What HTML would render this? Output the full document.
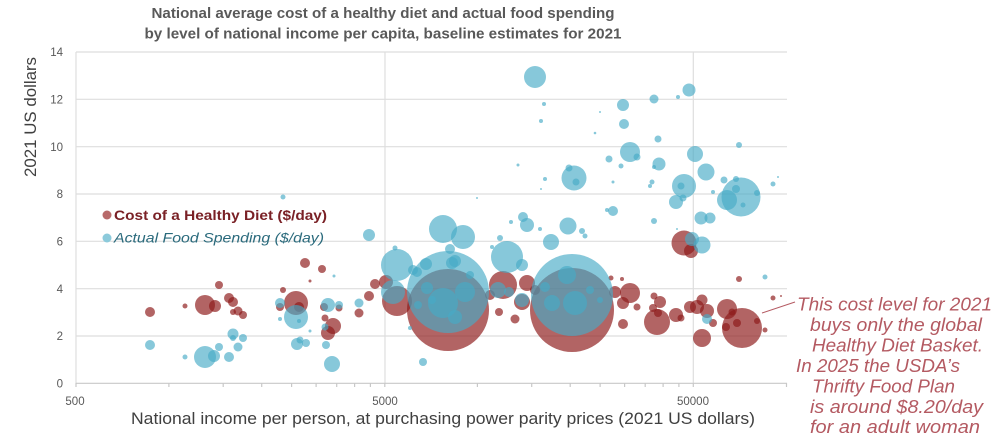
<!DOCTYPE html>
<html><head><meta charset="utf-8"><style>
html,body{margin:0;padding:0;background:#fff;}
svg{display:block;font-family:"Liberation Sans",sans-serif;}
</style></head><body>
<svg width="1000" height="435" viewBox="0 0 1000 435" xmlns="http://www.w3.org/2000/svg">
<rect width="1000" height="435" fill="#fff"/>
<!-- title -->
<text x="383" y="18" text-anchor="middle" font-size="14.5" font-weight="bold" fill="#595959" textLength="463" lengthAdjust="spacingAndGlyphs">National average cost of a healthy diet and actual food spending</text>
<text x="383" y="38.5" text-anchor="middle" font-size="14.5" font-weight="bold" fill="#595959" textLength="477" lengthAdjust="spacingAndGlyphs">by level of national income per capita, baseline estimates for 2021</text>
<!-- grid -->
<g stroke="#dedede" stroke-width="1.2">
<line x1="76" y1="52" x2="787" y2="52"/>
<line x1="76" y1="99.3" x2="787" y2="99.3"/>
<line x1="76" y1="146.7" x2="787" y2="146.7"/>
<line x1="76" y1="194" x2="787" y2="194"/>
<line x1="76" y1="241.3" x2="787" y2="241.3"/>
<line x1="76" y1="288.7" x2="787" y2="288.7"/>
<line x1="76" y1="336" x2="787" y2="336"/>
<line x1="385" y1="52" x2="385" y2="383"/>
<line x1="693.3" y1="52" x2="693.3" y2="383"/>
<line x1="76" y1="52" x2="76" y2="383"/>
</g>
<g stroke="#c8c8c8" stroke-width="1.2">
<line x1="76" y1="383.3" x2="787" y2="383.3"/>
<line x1="76" y1="383" x2="76" y2="387"/>
<line x1="168.9" y1="383" x2="168.9" y2="387"/>
<line x1="223.2" y1="383" x2="223.2" y2="387"/>
<line x1="261.7" y1="383" x2="261.7" y2="387"/>
<line x1="291.6" y1="383" x2="291.6" y2="387"/>
<line x1="316.1" y1="383" x2="316.1" y2="387"/>
<line x1="336.7" y1="383" x2="336.7" y2="387"/>
<line x1="354.6" y1="383" x2="354.6" y2="387"/>
<line x1="370.4" y1="383" x2="370.4" y2="387"/>
<line x1="384.8" y1="383" x2="384.8" y2="387"/>
<line x1="477.4" y1="383" x2="477.4" y2="387"/>
<line x1="531.7" y1="383" x2="531.7" y2="387"/>
<line x1="570.2" y1="383" x2="570.2" y2="387"/>
<line x1="600.1" y1="383" x2="600.1" y2="387"/>
<line x1="624.6" y1="383" x2="624.6" y2="387"/>
<line x1="645.2" y1="383" x2="645.2" y2="387"/>
<line x1="663.1" y1="383" x2="663.1" y2="387"/>
<line x1="678.9" y1="383" x2="678.9" y2="387"/>
<line x1="693.3" y1="383" x2="693.3" y2="387"/>
<line x1="786.5" y1="383" x2="786.5" y2="387"/>
</g>
<!-- y tick labels -->
<g font-size="11.5" fill="#595959" text-anchor="end">
<text x="63" y="56">14</text>
<text x="63" y="103.5">12</text>
<text x="63" y="151">10</text>
<text x="63" y="198">8</text>
<text x="63" y="245.5">6</text>
<text x="63" y="293">4</text>
<text x="63" y="340">2</text>
<text x="63" y="387.5">0</text>
</g>
<g font-size="11.5" fill="#595959" text-anchor="middle">
<text x="75" y="405">500</text>
<text x="385" y="405">5000</text>
<text x="693" y="405">50000</text>
</g>
<text transform="translate(36,117) rotate(-90)" text-anchor="middle" font-size="17" fill="#404040" textLength="120" lengthAdjust="spacingAndGlyphs">2021 US dollars</text>
<text x="131" y="424" font-size="17" fill="#404040" textLength="624" lengthAdjust="spacingAndGlyphs">National income per person, at purchasing power parity prices (2021 US dollars)</text>

<!-- red bubbles -->
<g fill="rgba(141,26,26,0.68)">
<circle cx="150" cy="312" r="5"/><circle cx="185" cy="306" r="2.5"/><circle cx="205" cy="305" r="10"/><circle cx="215" cy="306" r="6"/><circle cx="219" cy="285" r="4"/><circle cx="229" cy="298" r="5"/><circle cx="233" cy="302" r="5"/><circle cx="233" cy="312" r="3"/><circle cx="238" cy="311" r="4.5"/><circle cx="243" cy="315" r="4"/>
<circle cx="283" cy="290" r="3"/><circle cx="296" cy="303" r="12"/><circle cx="280" cy="307" r="4"/><circle cx="299" cy="307" r="5"/><circle cx="305" cy="263" r="5"/><circle cx="322" cy="269" r="4"/><circle cx="310" cy="281" r="1.5"/><circle cx="325" cy="318" r="3.5"/><circle cx="333" cy="326" r="8"/><circle cx="328" cy="333" r="7"/><circle cx="339" cy="308" r="3.5"/><circle cx="324" cy="307" r="4"/>
<circle cx="359" cy="313" r="4.5"/><circle cx="369" cy="296" r="5"/><circle cx="375" cy="284" r="5"/><circle cx="386" cy="282" r="7"/><circle cx="397" cy="301" r="15"/>
<circle cx="448" cy="310" r="41"/>
<circle cx="503" cy="285" r="14"/><circle cx="527" cy="283" r="8"/><circle cx="522" cy="302" r="8"/><circle cx="499" cy="312" r="4"/><circle cx="515" cy="319" r="4.5"/><circle cx="490" cy="295" r="5"/><circle cx="535" cy="290" r="5"/>
<circle cx="572" cy="310" r="42"/>
<circle cx="615" cy="292" r="6"/><circle cx="623" cy="303" r="6"/><circle cx="630" cy="293" r="10"/><circle cx="637" cy="307" r="3.5"/><circle cx="622" cy="279" r="2"/><circle cx="623" cy="324" r="5"/>
<circle cx="657" cy="322" r="13"/><circle cx="660" cy="302" r="6"/><circle cx="654" cy="296" r="3.5"/><circle cx="653" cy="308" r="4"/><circle cx="658" cy="313" r="4"/><circle cx="676" cy="315" r="7"/><circle cx="681" cy="318" r="3.5"/><circle cx="690" cy="307" r="6"/><circle cx="697" cy="307" r="7"/><circle cx="702" cy="300" r="5.5"/><circle cx="707" cy="311" r="7"/><circle cx="713" cy="323" r="4"/><circle cx="702" cy="338" r="9"/><circle cx="727" cy="309" r="10"/><circle cx="742" cy="328" r="20"/><circle cx="732" cy="312" r="3.5"/><circle cx="737" cy="323" r="4"/><circle cx="726" cy="327" r="4"/><circle cx="757" cy="321" r="3"/><circle cx="765" cy="330" r="2.5"/><circle cx="773" cy="298" r="2.5"/><circle cx="739" cy="279" r="3"/><circle cx="684" cy="243" r="12.5"/><circle cx="691" cy="251" r="7"/><circle cx="611" cy="278" r="2.5"/><circle cx="781" cy="296" r="1"/>
</g>
<!-- blue bubbles -->
<g fill="rgba(70,171,198,0.65)">
<circle cx="283" cy="197" r="2.5"/><circle cx="477" cy="198" r="1"/>
<circle cx="150" cy="345" r="5"/><circle cx="185" cy="357" r="2.5"/><circle cx="205" cy="357" r="11"/><circle cx="214" cy="356" r="6"/><circle cx="219" cy="347" r="4"/><circle cx="229" cy="357" r="5"/><circle cx="233" cy="334" r="5.5"/><circle cx="233" cy="338" r="3"/><circle cx="238" cy="347" r="4.5"/><circle cx="243" cy="338" r="4"/>
<circle cx="280" cy="303" r="5"/><circle cx="296" cy="317" r="12"/><circle cx="280" cy="319" r="2"/><circle cx="299" cy="321" r="2"/><circle cx="297" cy="344" r="6"/><circle cx="300" cy="340" r="3.5"/><circle cx="306" cy="343" r="4"/><circle cx="310" cy="331" r="1.5"/><circle cx="326" cy="345" r="4"/><circle cx="328" cy="305" r="7"/><circle cx="325" cy="327" r="3.5"/><circle cx="332" cy="364" r="8"/><circle cx="339" cy="305" r="4"/><circle cx="334" cy="276" r="1.5"/>
<circle cx="359" cy="303" r="4.5"/><circle cx="369" cy="235" r="6"/><circle cx="397" cy="265" r="16"/><circle cx="393" cy="292" r="12"/><circle cx="395" cy="248" r="2.5"/><circle cx="413" cy="270" r="5"/><circle cx="417" cy="272" r="5"/><circle cx="426" cy="264" r="6"/><circle cx="410" cy="328" r="2"/><circle cx="423" cy="362" r="4"/>
<circle cx="443" cy="229" r="14"/><circle cx="463" cy="237" r="12"/><circle cx="450" cy="249" r="5"/><circle cx="455" cy="261" r="6"/>
<circle cx="448" cy="292" r="41"/>
<circle cx="443" cy="303" r="15"/><circle cx="465" cy="292" r="10"/><circle cx="455" cy="317" r="7"/><circle cx="452" cy="263" r="6"/><circle cx="427" cy="288" r="6"/><circle cx="432" cy="300" r="4"/><circle cx="418" cy="305" r="4"/><circle cx="470" cy="275" r="4"/>
<circle cx="507" cy="257" r="16"/><circle cx="522" cy="265" r="6"/><circle cx="500" cy="238" r="3"/><circle cx="492" cy="247" r="2"/><circle cx="523" cy="217" r="5"/><circle cx="527" cy="225" r="7"/><circle cx="511" cy="222" r="2"/><circle cx="540" cy="229" r="2"/><circle cx="568" cy="226" r="8.5"/><circle cx="551" cy="242" r="8"/><circle cx="582" cy="231" r="3"/><circle cx="585" cy="236" r="2.5"/>
<circle cx="522" cy="300" r="7"/><circle cx="509" cy="292" r="5"/><circle cx="498" cy="290" r="8"/>
<circle cx="572" cy="295" r="41"/>
<circle cx="567" cy="275" r="9"/><circle cx="575" cy="303" r="12"/><circle cx="552" cy="303" r="8"/><circle cx="545" cy="287" r="5"/><circle cx="590" cy="290" r="4"/><circle cx="600" cy="300" r="3"/>
<circle cx="535" cy="77" r="11"/><circle cx="544" cy="104" r="2"/><circle cx="541" cy="121" r="2"/><circle cx="623" cy="105" r="6"/><circle cx="654" cy="99" r="4.5"/><circle cx="678" cy="97" r="2"/><circle cx="689" cy="90" r="6.5"/><circle cx="600" cy="112" r="1"/><circle cx="624" cy="124" r="5"/><circle cx="595" cy="133" r="1.3"/><circle cx="658" cy="139" r="3.5"/><circle cx="630" cy="152" r="10"/><circle cx="637" cy="157" r="3.5"/><circle cx="609" cy="159" r="3.5"/><circle cx="621" cy="166" r="2.5"/><circle cx="659" cy="164" r="6.5"/><circle cx="654" cy="167" r="2"/><circle cx="518" cy="165" r="1.5"/><circle cx="695" cy="154" r="8"/><circle cx="739" cy="145" r="3"/><circle cx="706" cy="172" r="8.5"/><circle cx="569" cy="168" r="3.5"/><circle cx="574" cy="178" r="12.5"/><circle cx="576" cy="182" r="3.5"/><circle cx="545" cy="179" r="2"/><circle cx="541" cy="189" r="1"/><circle cx="613" cy="182" r="1.5"/><circle cx="652" cy="182" r="2.5"/><circle cx="650" cy="186" r="2"/><circle cx="684" cy="186" r="12"/><circle cx="681" cy="186" r="3.5"/><circle cx="676" cy="202" r="7"/><circle cx="683" cy="198" r="3.5"/><circle cx="724" cy="180" r="3.5"/><circle cx="736" cy="179" r="3"/><circle cx="773" cy="184" r="2.5"/><circle cx="778" cy="177" r="1"/><circle cx="741" cy="197" r="19.5"/><circle cx="727" cy="200" r="10"/><circle cx="736" cy="189" r="4"/><circle cx="713" cy="192" r="2"/><circle cx="757" cy="193" r="3"/><circle cx="743" cy="205" r="2.5"/><circle cx="701" cy="218" r="6.5"/><circle cx="710" cy="218" r="5.5"/><circle cx="654" cy="221" r="3"/><circle cx="613" cy="211" r="5"/><circle cx="607" cy="210" r="2"/>
<circle cx="692" cy="239" r="7"/><circle cx="702" cy="245" r="8.5"/><circle cx="707" cy="319" r="5"/><circle cx="765" cy="277" r="2.5"/><circle cx="677" cy="229" r="1"/>
</g>
<!-- legend -->
<circle cx="107" cy="215" r="4.5" fill="#b86a6a"/>
<text x="114" y="220" font-size="14" font-weight="bold" fill="#7a2126" textLength="213" lengthAdjust="spacingAndGlyphs">Cost of a Healthy Diet ($/day)</text>
<circle cx="107" cy="238" r="4.5" fill="#8ccadb"/>
<text x="114" y="242.5" font-size="14" font-style="italic" fill="#2a6a7c" textLength="210" lengthAdjust="spacingAndGlyphs">Actual Food Spending ($/day)</text>
<!-- annotation -->
<line x1="762" y1="313" x2="795" y2="302" stroke="#b45a62" stroke-width="1"/>
<g font-size="18.5" font-style="italic" fill="#b45a62">
<text x="797" y="310.5" textLength="195" lengthAdjust="spacingAndGlyphs">This cost level for 2021</text>
<text x="810" y="331" textLength="172" lengthAdjust="spacingAndGlyphs">buys only the global</text>
<text x="812" y="351.5" textLength="171" lengthAdjust="spacingAndGlyphs">Healthy Diet Basket.</text>
<text x="796" y="372" textLength="164" lengthAdjust="spacingAndGlyphs">In 2025 the USDA’s</text>
<text x="812" y="392.5" textLength="143" lengthAdjust="spacingAndGlyphs">Thrifty Food Plan</text>
<text x="810" y="413" textLength="173" lengthAdjust="spacingAndGlyphs">is around $8.20/day</text>
<text x="810" y="433" textLength="170" lengthAdjust="spacingAndGlyphs">for an adult woman</text>
</g>
</svg>
</body></html>
